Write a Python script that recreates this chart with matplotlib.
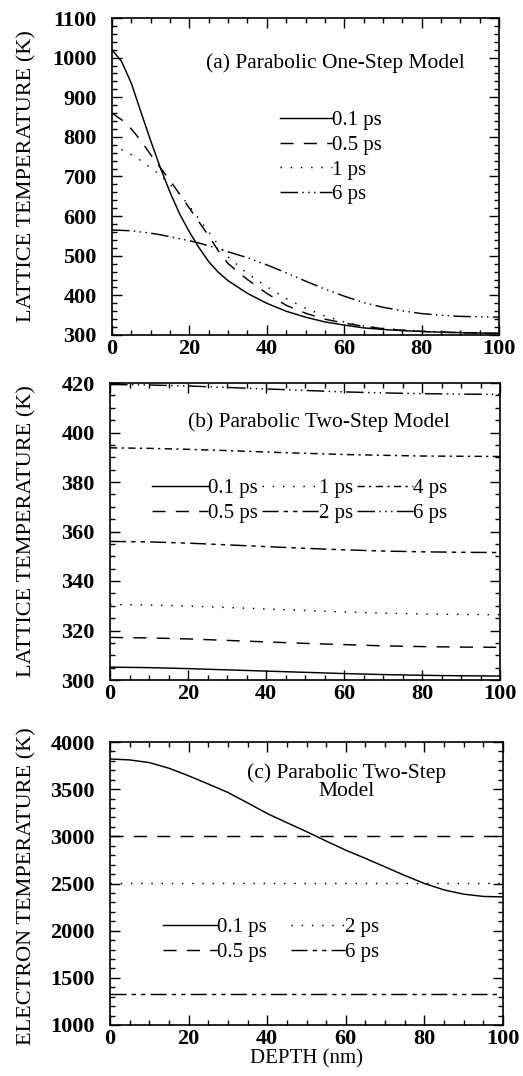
import matplotlib
matplotlib.use("Agg")
import matplotlib.pyplot as plt
from matplotlib.ticker import MultipleLocator

# ---------------- data ----------------
depth_a = [0, 2.5, 5, 7.5, 10, 12.5, 15, 17.5, 20, 22.5, 25, 27.5, 30, 35, 40, 45, 50, 55, 60, 65, 70, 75, 80, 85, 90, 95, 100]
a_01ps = [1020, 990, 935, 862, 790, 722, 660, 605, 560, 520, 485, 458, 437, 405, 380, 360, 345, 333, 325, 318, 314, 311, 309, 307, 306, 305, 304]
a_05ps = [860, 843, 820, 790, 755, 722, 690, 655, 620, 585, 550, 512, 480, 440, 405, 375, 355, 340, 330, 322, 316, 312, 309, 307, 306, 305, 304]
a_1ps = [778, 768, 755, 740, 722, 703, 680, 655, 625, 593, 560, 527, 497, 455, 422, 392, 368, 348, 333, 323, 317, 313, 310, 308, 306, 305, 305]
a_6ps = [565, 564, 563, 560, 557, 553, 548, 543, 538, 532, 525, 518, 510, 495, 477, 457, 436, 416, 398, 382, 370, 361, 354, 350, 347, 346, 345]
labels_a = ["0.1 ps", "0.5 ps", "1 ps", "6 ps"]

depth_b = [0, 10, 20, 30, 40, 50, 60, 70, 80, 90, 100]
b_01ps = [305.2, 305.0, 304.6, 304.1, 303.6, 303.1, 302.6, 302.2, 301.9, 301.7, 301.6]
b_05ps = [317.2, 317.0, 316.6, 316.0, 315.4, 314.8, 314.3, 313.8, 313.5, 313.3, 313.2]
b_1ps = [330.5, 330.3, 329.9, 329.3, 328.7, 328.1, 327.5, 327.0, 326.7, 326.5, 326.4]
b_2ps = [356.0, 355.8, 355.3, 354.6, 353.9, 353.2, 352.6, 352.1, 351.8, 351.6, 351.5]
b_4ps = [393.8, 393.6, 393.2, 392.7, 392.1, 391.6, 391.1, 390.8, 390.5, 390.4, 390.3]
b_6ps = [419.4, 419.2, 418.8, 418.2, 417.6, 417.0, 416.4, 416.0, 415.7, 415.5, 415.4]
labels_b = ["0.1 ps", "0.5 ps", "1 ps", "2 ps", "4 ps", "6 ps"]

depth_c = [0, 5, 10, 15, 20, 25, 30, 35, 40, 45, 50, 55, 60, 65, 70, 75, 80, 85, 90, 95, 100]
c_01ps = [3820, 3810, 3782, 3722, 3642, 3555, 3465, 3355, 3242, 3145, 3050, 2950, 2853, 2766, 2676, 2585, 2500, 2432, 2387, 2363, 2358]
c_05ps = [3000] * 21
c_2ps = [2510] * 21
c_6ps = [1330] * 21
labels_c = ["0.1 ps", "0.5 ps", "2 ps", "6 ps"]

xticks = [0, 20, 40, 60, 80, 100]

# ---------------- style ----------------
SERIF = ["Liberation Serif", "DejaVu Serif"]
plt.rcParams["font.family"] = SERIF

W, H = 523, 1076
fig = plt.figure(figsize=(W / 100, H / 100), dpi=100)

def px_axes(l, r, t, b):
    return fig.add_axes([l / W, 1 - b / H, (r - l) / W, (b - t) / H])

ax_a = px_axes(112, 499, 18, 335)
ax_b = px_axes(110, 500, 383, 680)
ax_c = px_axes(110, 503, 742, 1025)

LW = 1.05
st_solid = "-"
st_dash = (0, (9, 7))
st_dot = (0, (1, 6))
st_d3dot = (0, (12, 3, 1, 3, 1, 3, 1, 3))
st_dash2 = (0, (11, 3.5, 3, 3.5, 3, 3.5))
st_dashdot = (0, (5, 3, 1.5, 3))

TICK_FS = 16
TXT_FS = 15

def style_axis(ax, ymin, ymax, ymaj, ymin_step):
    ax.set_xlim(0, 100)
    ax.set_ylim(ymin, ymax)
    ax.set_xticks(xticks)
    ax.xaxis.set_minor_locator(MultipleLocator(5))
    ax.yaxis.set_major_locator(MultipleLocator(ymaj))
    ax.yaxis.set_minor_locator(MultipleLocator(ymin_step))
    ax.tick_params(which="both", direction="in", top=True, right=True, width=1.0, color="black")
    ax.tick_params(which="major", length=7)
    ax.tick_params(which="minor", length=3.5)
    ax.tick_params(axis="y", which="major", pad=11)
    ax.tick_params(axis="x", which="major", pad=3)
    for lab in ax.get_xticklabels() + ax.get_yticklabels():
        lab.set_fontweight("bold")
        lab.set_fontsize(TICK_FS)
    for s in ax.spines.values():
        s.set_linewidth(1.2)

# panel (a)
ax_a.plot(depth_a, a_01ps, color="black", lw=LW, ls=st_solid, label=labels_a[0])
ax_a.plot(depth_a, a_05ps, color="black", lw=LW, ls=st_dash, label=labels_a[1])
ax_a.plot(depth_a, a_1ps, color="black", lw=LW, ls=st_dot, label=labels_a[2])
ax_a.plot(depth_a, a_6ps, color="black", lw=LW, ls=st_d3dot, label=labels_a[3])
style_axis(ax_a, 300, 1100, 100, 20)
ax_a.text(0.578, 0.858, "(a) Parabolic One-Step Model", transform=ax_a.transAxes,
          ha="center", va="center", fontsize=15.5)
ax_a.legend(loc="center left", bbox_to_anchor=(0.434, 0.56), frameon=False,
            fontsize=TXT_FS, handlelength=2.5, handletextpad=0.0, labelspacing=0.25,
            borderpad=0, borderaxespad=0)

# panel (b)
ax_b.plot(depth_b, b_01ps, color="black", lw=LW, ls=st_solid, label=labels_b[0])
ax_b.plot(depth_b, b_05ps, color="black", lw=LW, ls=st_dash, label=labels_b[1])
ax_b.plot(depth_b, b_1ps, color="black", lw=LW, ls=st_dot, label=labels_b[2])
ax_b.plot(depth_b, b_2ps, color="black", lw=LW, ls=st_dash2, label=labels_b[3])
ax_b.plot(depth_b, b_4ps, color="black", lw=LW, ls=st_dashdot, label=labels_b[4])
ax_b.plot(depth_b, b_6ps, color="black", lw=LW, ls=st_d3dot, label=labels_b[5])
style_axis(ax_b, 300, 420, 20, 5)
ax_b.text(0.536, 0.869, "(b) Parabolic Two-Step Model", transform=ax_b.transAxes,
          ha="center", va="center", fontsize=15.5)
ax_b.legend(loc="center left", bbox_to_anchor=(0.108, 0.603), frameon=False, ncol=3,
            fontsize=TXT_FS, handlelength=2.7, handletextpad=0.0, labelspacing=0.25,
            columnspacing=0.2, borderpad=0, borderaxespad=0)

# panel (c)
ax_c.plot(depth_c, c_01ps, color="black", lw=LW, ls=st_solid, label=labels_c[0])
ax_c.plot(depth_c, c_05ps, color="black", lw=LW, ls=st_dash, label=labels_c[1])
ax_c.plot(depth_c, c_2ps, color="black", lw=LW, ls=st_dot, label=labels_c[2])
ax_c.plot(depth_c, c_6ps, color="black", lw=LW, ls=st_dash2, label=labels_c[3])
style_axis(ax_c, 1000, 4000, 500, 100)
ax_c.text(0.603, 0.857, "(c) Parabolic Two-Step\nModel", transform=ax_c.transAxes,
          ha="center", va="center", fontsize=15.5, linespacing=0.95)
ax_c.legend(loc="center left", bbox_to_anchor=(0.135, 0.30), frameon=False, ncol=2,
            fontsize=TXT_FS, handlelength=2.6, handletextpad=0.0, labelspacing=0.25,
            columnspacing=1.15, borderpad=0, borderaxespad=0)
ax_c.set_xlabel("DEPTH (nm)", fontsize=TXT_FS, labelpad=0)

# y labels
fig.text(27 / W, 1 - 176 / H, "LATTICE TEMPERATURE (K)", rotation=90, ha="center", va="center", fontsize=16)
fig.text(27 / W, 1 - 531 / H, "LATTICE TEMPERATURE (K)", rotation=90, ha="center", va="center", fontsize=16)
fig.text(27 / W, 1 - 886 / H, "ELECTRON TEMPERATURE (K)", rotation=90, ha="center", va="center", fontsize=16)

fig.savefig("out.png", dpi=100)
